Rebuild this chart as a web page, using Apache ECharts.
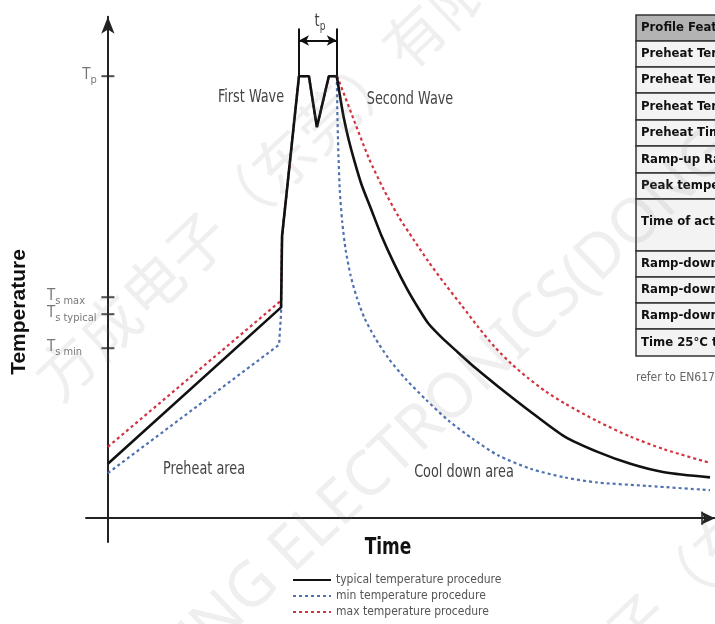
<!DOCTYPE html>
<html><head><meta charset="utf-8">
<script src="https://cdn.jsdelivr.net/npm/echarts@6.0.0/dist/echarts.min.js"></script>
<style>html,body{margin:0;padding:0;background:#fff;}#chart{width:715px;height:624px;}</style>
</head><body><div id="chart"></div>
<script>
// ---- Data (x = time units, y = temperature units) ----
// preheat + two waves (straight segments)
const typicalRise = [[0,32],[87,124],[87.5,166],[96,260],[101,260],[105,230],[111,260],[115,260]];
const minRise = [[0,26.5],[86,102],[87,120.5],[87.5,166],[96,260],[101,260],[105,230],[111,260],[115,260]];
const maxRise = [[0,42],[87,128],[87.5,166],[96,260],[101,260],[105,230],[111,260],[115,260]];
// cool down (smooth curves)
const typicalFall = [[115,260],[116.5,249],[118.5,235.5],[121,222.5],[124,209.5],[127.5,196],[132,182.5],[137.5,166],[143.5,150.5],[150,135.5],[156,123.5],[161,114.5],[167.5,106.5],[174.5,99],[185,88],[196,77.5],[212.5,62.5],[229.5,48],[246,39],[262.5,32],[279.5,27],[302.5,24]];
const minFall = [[115,260],[115.25,240],[115.75,216.5],[116.5,193],[117.75,174],[119.5,157.5],[122,142.5],[125,130],[129,117.5],[134,106.5],[141,94],[149.5,82],[160,69.5],[171,57.5],[183.5,46.5],[196,37],[212.5,29],[229.5,24],[246,21],[271,19],[302.5,16.5]];
const maxFall = [[115,260],[116,257.5],[123.5,234.5],[131,212],[138.5,193.5],[146,177.5],[153.5,164],[161,151],[169.5,137.5],[177.5,125.5],[186,112.5],[194.5,100.5],[203,90.5],[211,82.5],[220,74.5],[229.5,67.5],[246,57],[262.5,48],[279.5,40.5],[302.5,32.5]];
const seriesNames = ['typical temperature procedure','min temperature procedure','max temperature procedure'];
const yTickValues = [260, 130, 120, 100];
const yTickMain = ['T', 'T', 'T', 'T'];
const yTickSub = ['p', 's max', 's typical', 's min'];
const xTickValues = [298.5];
const tpStart = 96, tpEnd = 115, tpTop = 288, tpArrowY = 281;
const tableRows = ['Profile Feature','Preheat Temperature min','Preheat Temperature typical','Preheat Temperature max','Preheat Time','Ramp-up Rate','Peak temperature','Time of actual peak','Ramp-down Rate min','Ramp-down Rate typical','Ramp-down Rate max','Time 25°C to peak'];
const tableNote = 'refer to EN61760-1';
const annotations = ['First Wave','Second Wave','Preheat area','Cool down area'];

const NARROW = "'Liberation Sans Narrow','DejaVu Sans Condensed','Roboto Condensed',sans-serif";
const BOLD = "'Liberation Sans','DejaVu Sans',sans-serif";

const chart = echarts.init(document.getElementById('chart'), null, {renderer:'canvas'});

// table graphic
const rowEdges = [15, 41, 67, 93, 120, 146, 173, 199, 251, 277, 303, 329, 356];
const tableEls = [];
tableRows.forEach((t, i) => {
  const y0 = rowEdges[i], y1 = rowEdges[i+1];
  tableEls.push({type:'rect', shape:{x:636, y:y0, width:110, height:y1-y0},
    style:{fill: i === 0 ? '#b3b3b3' : '#f4f3f3', stroke:'#333', lineWidth:1.5}});
  tableEls.push({type:'text', x:641, y:(y0+y1)/2 - (i===7?3:0),
    style:{text:t, font:'bold 13px ' + NARROW, fill:'#111', align:'left', verticalAlign:'middle'}});
});
tableEls.push({type:'text', x:636, y:378, style:{text:tableNote, font:'12px ' + NARROW, fill:'#666', align:'left', verticalAlign:'middle'}});

const annPos = [[251,98],[410,100],[204,470],[464,473]];
const annEls = annotations.map((t, i) => ({type:'text', x:annPos[i][0], y:annPos[i][1], scaleX:0.84,
  style:{text:t, font:'17px ' + NARROW, fill:'#444', align:'center', verticalAlign:'middle'}}));

const wmFill = 'rgba(120,120,120,0.12)';
const watermark = [
  {type:'text', x:305, y:140, rotation:0.76, z:100, silent:true,
    style:{text:'方成电子（东莞）有限公司', font:'60px "Noto Sans CJK SC"', fill:wmFill, align:'center', verticalAlign:'middle'}},
  {type:'text', x:430, y:420, rotation:0.76, z:100, silent:true,
    style:{text:'FANGCHENG ELECTRONICS(DONGGUAN)', font:'62px "Noto Sans"', fill:wmFill, align:'center', verticalAlign:'middle'}},
  {type:'text', x:746, y:521, rotation:0.76, z:100, silent:true,
    style:{text:'方成电子（东莞）有限公司', font:'60px "Noto Sans CJK SC"', fill:wmFill, align:'center', verticalAlign:'middle'}}
];

const lineCommon = {type:'line', symbol:'none', showSymbol:false, silent:true, clip:false};
const styles = [
  {lineStyle:{color:'#111', width:2.6, type:'solid'}, itemStyle:{color:'#111'}, z:4},
  {lineStyle:{color:'#4f72b0', width:2.2, type:[3,3]}, itemStyle:{color:'#4f72b0'}, z:3},
  {lineStyle:{color:'#d2333f', width:2.2, type:[3,3]}, itemStyle:{color:'#d2333f'}, z:3}
];
const rises = [typicalRise, minRise, maxRise];
const falls = [typicalFall, minFall, maxFall];
const curveSeries = [];
[1, 2, 0].forEach(k => {
  curveSeries.push(Object.assign({}, lineCommon, styles[k], {name:seriesNames[k], data:rises[k], smooth:false}));
  curveSeries.push(Object.assign({}, lineCommon, styles[k], {name:seriesNames[k], data:falls[k], smooth:0.25}));
});

const option = {
  animation:false,
  backgroundColor:'#fff',
  grid:{left:86, right:-3, top:16.7, bottom:82, containLabel:false},
  xAxis:{type:'value', min:-11, max:305,
    axisLine:{onZero:true, symbol:['none','arrow'], symbolSize:[10,14], lineStyle:{color:'#222', width:2}},
    axisTick:{show:false}, axisLabel:{show:false}, splitLine:{show:false}},
  yAxis:{type:'value', min:-14, max:295,
    axisLine:{onZero:true, symbol:['none','arrow'], symbolSize:[10,17], lineStyle:{color:'#222', width:2}},
    axisTick:{show:false}, axisLabel:{show:false}, splitLine:{show:false}},
  legend:{orient:'vertical', left:287, top:569, height:60, itemWidth:38, itemHeight:12, itemGap:4,
    data:seriesNames, selectedMode:false, itemStyle:{opacity:0},
    textStyle:{fontFamily:NARROW, fontSize:12, color:'#555'}},
  graphic:[].concat(tableEls, annEls, [
    {type:'text', x:19, y:312, rotation:Math.PI/2, style:{text:'Temperature', font:'bold 21px ' + BOLD, fill:'#111', align:'center', verticalAlign:'middle'}},
    {type:'text', x:388, y:548, scaleX:0.82, style:{text:'Time', font:'bold 23px ' + NARROW, fill:'#111', align:'center', verticalAlign:'middle'}},
    {type:'text', x:320, y:23, scaleX:0.84, style:{text:'{t|t}{p|p}', align:'center', verticalAlign:'middle',
      rich:{t:{font:'17px ' + NARROW, fill:'#444', lineHeight:20, verticalAlign:'top'},
            p:{font:'12px ' + NARROW, fill:'#444', lineHeight:12, verticalAlign:'bottom'}}}}
  ], watermark),
  series: curveSeries.concat([
    // tp bracket
    {type:'line', data:[], silent:true, z:4,
      markLine:{silent:true, symbol:'none', label:{show:false},
        lineStyle:{color:'#111', width:2, type:'solid'},
        data:[
          [{coord:[tpStart,260]},{coord:[tpStart,tpTop]}],
          [{coord:[tpEnd,260]},{coord:[tpEnd,tpTop]}],
          [{coord:[tpStart,tpArrowY], symbol:'arrow', symbolSize:[8,10], symbolRotate:90},
           {coord:[tpEnd,tpArrowY], symbol:'arrow', symbolSize:[8,10]}]
        ]}},
    // axis tick marks
    {type:'scatter', silent:true, z:5, clip:false, symbol:'rect', symbolSize:[13,2],
      itemStyle:{color:'#222'}, data:yTickValues.map(v => [0, v])},
    {type:'scatter', silent:true, z:5, clip:false, symbol:'rect', symbolSize:[2,13],
      itemStyle:{color:'#222'}, data:xTickValues.map(v => [v, 0])},
    // tick labels
    {type:'scatter', silent:true, z:5, clip:false, symbolSize:0,
      data:yTickValues.map((v, i) => ({value:[0, v],
        label:{show:true, position:'left', distance: i === 0 ? 11 : 61, align: i === 0 ? 'right' : 'left',
          formatter:'{T|' + yTickMain[i] + '}{s|' + yTickSub[i] + '}'}})),
      label:{verticalAlign:'middle',
        rich:{T:{fontFamily:NARROW, fontSize:15, color:'#555', lineHeight:18, verticalAlign:'top'},
              s:{fontFamily:NARROW, fontSize:11, color:'#555', lineHeight:11, verticalAlign:'bottom'}}}}
  ])
};
chart.setOption(option);
</script></body></html>
